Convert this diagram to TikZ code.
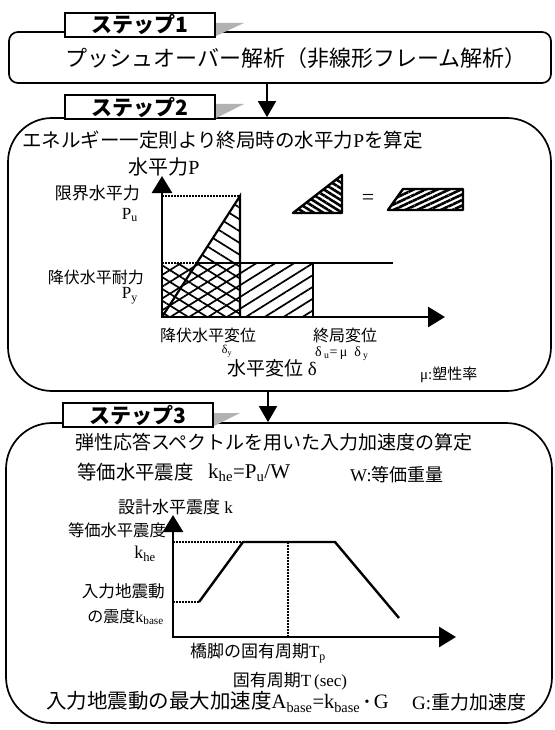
\documentclass[tikz,border=0pt]{standalone}
\usepackage{fontspec}
\setmainfont{Liberation Serif}
\newfontfamily\jp{Noto Sans CJK JP}
\usetikzlibrary{arrows.meta,patterns.meta}
\newcommand{\J}[1]{{\jp #1}}
\newcommand{\fs}[1]{\fontsize{#1}{#1}\selectfont}
\begin{document}
\begin{tikzpicture}[x=1pt,y=-1pt,
  boxline/.style={draw, line width=1.7pt},
  tabbox/.style={draw, fill=white, line width=1.6pt, minimum width=150pt, minimum height=24pt, inner sep=0pt, font=\fs{21}\jp\bfseries},
  wedge/.style={fill=gray!60},
  flowarrow/.style={line width=1.7pt, -{Triangle[width=18pt,length=16pt]}},
  axisarrow/.style={line width=2.8pt, -{Triangle[width=20pt,length=17pt]}},
  dotline/.style={line width=1.6pt, dash pattern=on 1.6pt off 1.4pt},
  curveline/.style={line width=2.4pt, line join=miter},
  thickline/.style={line width=2.2pt},
  lab/.style={inner sep=0pt},
]
\useasboundingbox (0,0) rectangle (554,730);
\fill[white] (0,0) rectangle (554,730);

% ---------- Step 1 ----------
\node[boxline, rounded corners=9pt, minimum width=542pt, minimum height=51pt] (s1box) at (280,57.5) {};
\node[lab, font=\fs{22}] (s1text) at (296,58) {\J{プッシュオーバー解析（非線形フレーム解析）}};
\fill[wedge] (216,23) -- (244,23) -- (216,36) -- cycle;
\node[tabbox] (tab1) at (140,25) {ステップ1};

% ---------- Step 2 ----------
\node[boxline, rounded corners=44pt, minimum width=543pt, minimum height=273pt] (s2box) at (279.5,254.5) {};
\fill[wedge] (216,104) -- (244,104) -- (216,118) -- cycle;
\node[tabbox] (tab2) at (140,107) {ステップ2};
\coordinate (ax1) at (267,0);
\draw[flowarrow] (ax1 |- s1box.south) -- (ax1 |- s2box.north);

\node[lab, font=\fs{19.5}, anchor=west] (t2a) at (22,140) {\J{エネルギー一定則より終局時の水平力}P\J{を算定}};
\node[lab, font=\fs{20}] (t2b) at (164,167) {\J{水平力}P};

% hatching
\fill[pattern={Lines[angle=-32,distance=10pt,line width=1.7pt]}] (162,317) -- (162,263) -- (196.8,263) -- (240,196) -- (240,317) -- cycle;
\fill[pattern={Lines[angle=32,distance=10pt,line width=1.7pt]}] (162,263) rectangle (313,317);
\draw[thickline] (162,317) -- (240,196) -- (240,317);
\draw[dotline] (162,196) -- (240,196);
\draw[dotline] (162,263) -- (196.8,263);
\draw[thickline] (196.8,263) -- (393,263);
\draw[thickline] (313,263) -- (313,317);
\draw[axisarrow] (162,317) -- (162,176);
\draw[axisarrow] (160.6,317) -- (445,317);

\node[lab, font=\fs{17}, anchor=east] (lpu) at (140,193) {\J{限界水平力}};
\node[lab, font=\fs{17}, anchor=east] (pu) at (138,215) {P\textsubscript{u}};
\node[lab, font=\fs{16}, anchor=east] (lpy) at (144,277) {\J{降伏水平耐力}};
\node[lab, font=\fs{17}, anchor=east] (py) at (138,296) {P\textsubscript{y}};
\node[lab, font=\fs{16}] (ldy) at (208,335.5) {\J{降伏水平変位}};
\node[lab, font=\fs{16}] (ldu) at (345,335) {\J{終局変位}};
\node[lab, font=\fs{12}, anchor=south] (dy) at (227,357) {δ\textsubscript{y}};
\node[lab, font=\fs{19}, anchor=west] (xlab) at (227,368) {\J{水平変位} δ};
\node[lab, font=\fs{14}, anchor=west] (dus) at (315,354) {δ\,\textsubscript{u}=\,μ\ \ δ\,\textsubscript{y}};
\node[lab, font=\fs{15}, anchor=west] (mu) at (420,375) {μ:\J{塑性率}};

% pictogram
\fill[pattern={Lines[angle=-32,distance=5pt,line width=2.6pt]}] (293,213) -- (342,175) -- (342,213) -- cycle;
\draw[line width=2.4pt, line join=round] (293,213) -- (342,175) -- (342,213) -- cycle;
\node[lab, font=\fs{22}] (eq) at (368,199) {=};
\fill[pattern={Lines[angle=25,distance=5pt,line width=2.6pt]}] (388,210) -- (403,189) -- (463,189) -- (463,210) -- cycle;
\draw[line width=2.4pt, line join=round] (388,210) -- (403,189) -- (463,189) -- (463,210) -- cycle;

% ---------- Step 3 ----------
\node[boxline, rounded corners=46pt, minimum width=546pt, minimum height=300pt] (s3box) at (279,573) {};
\fill[wedge] (212,413) -- (240,413) -- (212,427) -- cycle;
\node[tabbox] (tab3) at (138,415) {ステップ3};
\coordinate (ax2) at (268,0);
\draw[flowarrow] (ax2 |- s2box.south) -- (ax2 |- s3box.north);

\node[lab, font=\fs{19}, anchor=west] (t3a) at (75,442) {\J{弾性応答スペクトルを用いた入力加速度の算定}};
\node[lab, font=\fs{19.4}, anchor=west] (t3b) at (77,472) {\J{等価水平震度}};
\node[lab, font=\fs{21}, anchor=west] (t3c) at (208,473) {k\textsubscript{he}=P\textsubscript{u}/W};
\node[lab, font=\fs{18}, anchor=west] (t3d) at (350,475) {W:\J{等価重量}};
\node[lab, font=\fs{17}, anchor=west] (t3e) at (118,507) {\J{設計水平震度} k};

\draw[dotline] (173,542) -- (243,542);
\draw[dotline] (173,602) -- (199,602);
\draw[dotline] (288,542) -- (288,637);
\draw[curveline] (199,602) -- (243,542) -- (335,542) -- (399,618);
\draw[axisarrow] (173,637) -- (173,515);
\draw[axisarrow] (171.6,637) -- (456,637);

\node[lab, font=\fs{16.3}, anchor=east] (lkhe) at (166,530) {\J{等価水平震度}};
\node[lab, font=\fs{18}, anchor=east] (khe) at (156,554) {k\textsubscript{he}};
\node[lab, font=\fs{16.6}, anchor=east] (lin) at (165,591) {\J{入力地震動}};
\node[lab, font=\fs{16}, anchor=east] (kbase) at (164,617) {\J{の震度}k\textsubscript{base}};
\node[lab, font=\fs{17}] (tp) at (258,653) {\J{橋脚の固有周期}T\textsubscript{p}};
\node[lab, font=\fs{17}] (tsec) at (290,681) {\J{固有周期}T\,(sec)};
\node[lab, font=\fs{20.5}, anchor=west] (abase) at (46,702) {\J{入力地震動の最大加速度}A\textsubscript{base}=k\textsubscript{base}\,{\bfseries·}\,G};
\node[lab, font=\fs{19}, anchor=west] (grav) at (412,702) {G:\J{重力加速度}};
\end{tikzpicture}
\end{document}
